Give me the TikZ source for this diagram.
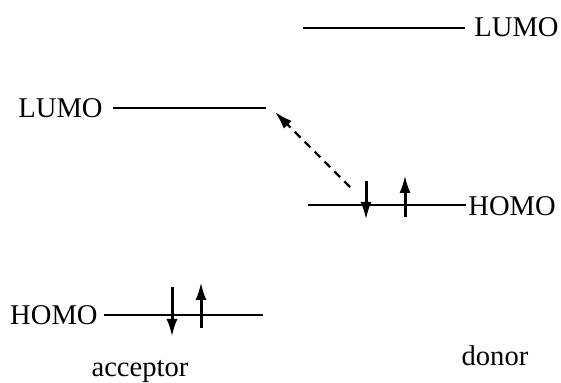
\documentclass[tikz,border=0pt]{standalone}
\usepackage{fontspec}
\setmainfont{Liberation Serif}
\usetikzlibrary{arrows.meta}
\begin{document}
\begin{tikzpicture}[x=0.5pt,y=-0.5pt,
  lbl/.style={inner sep=0pt,font=\fontsize{14.3}{16}\selectfont},
  level/.style={line width=1.1pt},
  spin/.style={line width=1.5pt,-{Latex[length=9pt,width=5.5pt]}},
  transfer/.style={line width=1.1pt,dash pattern=on 4pt off 3pt,-{Latex[length=9pt,width=5.5pt]}}]
\useasboundingbox (0,0) rectangle (561,383);
% donor LUMO
\coordinate (dl1) at (303,28);
\coordinate (dl2) at (465,28);
\node[lbl,anchor=west] (dLUMO) at (474,27) {LUMO};
\draw[level] (dl1) -- (dl2);
% acceptor LUMO
\node[lbl,anchor=east] (aLUMO) at (103,108) {LUMO};
\coordinate (al1) at (113,108);
\coordinate (al2) at (266,108);
\draw[level] (al1) -- (al2);
% donor HOMO
\coordinate (dh1) at (308,205);
\coordinate (dh2) at (466,205);
\node[lbl,anchor=west] (dHOMO) at (468,206) {HOMO};
\draw[level] (dh1) -- (dh2);
% acceptor HOMO
\node[lbl,anchor=east] (aHOMO) at (98,315) {HOMO};
\coordinate (ah1) at (104,315);
\coordinate (ah2) at (263,315);
\draw[level] (ah1) -- (ah2);
% donor spins
\coordinate (ds1a) at (366,181);
\coordinate (ds1b) at (366,220);
\coordinate (ds2a) at (405,217);
\coordinate (ds2b) at (405,175);
\draw[spin] (ds1a) -- (ds1b);
\draw[spin] (ds2a) -- (ds2b);
% acceptor spins
\coordinate (as1a) at (172,287);
\coordinate (as1b) at (172,337);
\coordinate (as2a) at (201,328);
\coordinate (as2b) at (201,282);
\draw[spin] (as1a) -- (as1b);
\draw[spin] (as2a) -- (as2b);
% charge transfer
\coordinate (ct1) at (350,187);
\coordinate (ct2) at (275,112);
\draw[transfer] (ct1) -- (ct2);
% labels
\node[lbl,anchor=base] (acc) at (140,377) {acceptor};
\node[lbl,anchor=base] (don) at (495,366) {donor};
\end{tikzpicture}
\end{document}
